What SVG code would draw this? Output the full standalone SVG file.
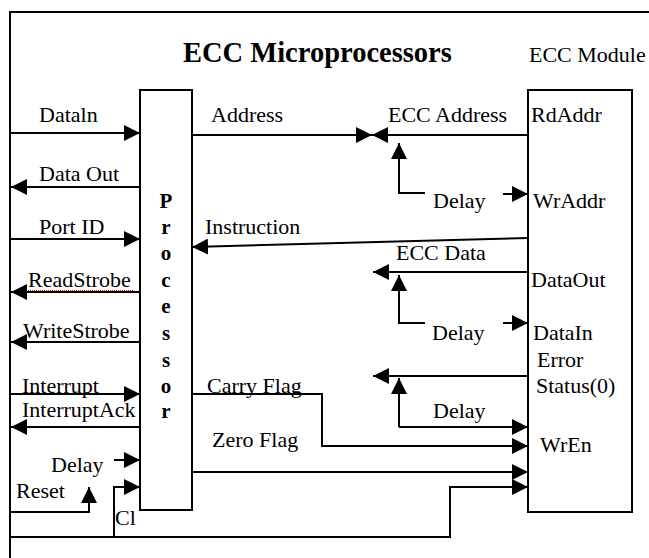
<svg xmlns="http://www.w3.org/2000/svg" width="649" height="558" viewBox="0 0 649 558">
<style>
.ln{fill:none;stroke:#000;stroke-width:2}
.ar{marker-end:url(#ah)}
.box{fill:#fff;stroke:#000;stroke-width:2}
</style>
<defs>
<marker id="ah" viewBox="0 0 16 16" refX="16" refY="8" markerWidth="16" markerHeight="16" orient="auto" markerUnits="userSpaceOnUse">
<path d="M0,0 L16,8 L0,16 z" fill="#000"/>
</marker>
</defs>
<rect width="649" height="558" fill="#fff"/>
<g id="frame">
<path class="ln" d="M10,558 V12 H649"/>
</g>
<g font-family="Liberation Serif, Tinos, DejaVu Serif, serif" font-size="22" fill="#000">
<text font-weight="bold" x="183" y="62" font-size="28.5">ECC Microprocessors</text>
<text x="529" y="62">ECC Module</text>
<g id="processor">
<rect class="box" x="140" y="90" width="52" height="420"/>
<g font-weight="bold" text-anchor="middle" font-size="21">
<text x="166" y="208">P</text>
<text x="166" y="234">r</text>
<text x="166" y="260">o</text>
<text x="166" y="287">c</text>
<text x="166" y="313">e</text>
<text x="166" y="340">s</text>
<text x="166" y="367">s</text>
<text x="166" y="393">o</text>
<text x="166" y="418">r</text>
</g>
</g>
<g id="ecc-module">
<rect class="box" x="528" y="90" width="104" height="422"/>
<text x="531" y="122">RdAddr</text>
<text x="533" y="208">WrAddr</text>
<text x="531" y="287">DataOut</text>
<text x="533" y="340">DataIn</text>
<text x="537" y="367">Error</text>
<text x="536" y="393">Status(0)</text>
<text x="540" y="452">WrEn</text>
</g>
<g id="connectors">
<path class="ln ar" d="M10,133 H140"/>
<path class="ln ar" d="M140,187 H11"/>
<path class="ln ar" d="M10,239 H140"/>
<path class="ln ar" d="M140,292 H11"/>
<path class="ln ar" d="M140,342 H11"/>
<path class="ln ar" d="M10,394 H140"/>
<path class="ln ar" d="M140,427 H11"/>
<path class="ln ar" d="M114,460 H140"/>
<path class="ln ar" d="M10,512 H89 V487"/>
<path class="ln ar" d="M114,537 V487 H140"/>
<path class="ln ar" d="M10,537 H450 V487 H528"/>
<path class="ln ar" d="M192,135 H372"/>
<path class="ln ar" d="M528,135 H372"/>
<path class="ln ar" d="M425,193 H399 V143"/>
<path class="ln ar" d="M503,194 H528"/>
<path class="ln ar" d="M528,238 L192,247"/>
<path class="ln ar" d="M528,272 H373"/>
<path class="ln ar" d="M425,323 H399 V275"/>
<path class="ln ar" d="M503,323 H528"/>
<path class="ln ar" d="M528,376 H373"/>
<path class="ln ar" d="M399,427 V378"/>
<path class="ln ar" d="M399,427 H528"/>
<path class="ln ar" d="M192,394 H322 V446 H528"/>
<path class="ln ar" d="M192,472 H528"/>
</g>
<g id="labels">
<text x="39" y="122">Dataln</text>
<text x="39" y="181">Data Out</text>
<text x="39" y="234">Port ID</text>
<text x="28" y="287">ReadStrobe</text>
<path d="M28,290.5 H134" stroke="#e00" stroke-width="1" stroke-dasharray="1 1" fill="none"/>
<text x="23" y="338">WriteStrobe</text>
<text x="22" y="393">Interrupt</text>
<text x="22" y="417">InterruptAck</text>
<text x="51" y="472">Delay</text>
<text x="16" y="498">Reset</text>
<text x="115" y="525">Cl</text>
<text x="211" y="122">Address</text>
<text x="388" y="122">ECC Address</text>
<text x="433" y="208">Delay</text>
<text x="205" y="234">Instruction</text>
<text x="396" y="260">ECC Data</text>
<text x="432" y="340">Delay</text>
<text x="433" y="418">Delay</text>
<text x="207" y="393">Carry Flag</text>
<text x="212" y="447">Zero Flag</text>
</g>
</g>
</svg>
